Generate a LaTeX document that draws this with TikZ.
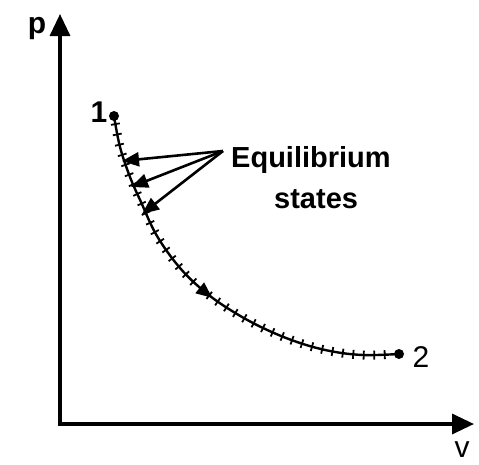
\documentclass[tikz,border=0pt]{standalone}
\usepackage{fontspec}
\setmainfont{Liberation Sans}
\usetikzlibrary{arrows.meta,decorations.markings}
\begin{document}
\begin{tikzpicture}[x=1pt,y=-1pt,
  axis/.style={line width=3.4pt,-{Triangle[length=22pt,width=20pt]}},
  pointer/.style={line width=2.6pt,-{Triangle[length=17pt,width=14pt]}},
  lbl/.style={font=\fontsize{30}{32}\selectfont,inner sep=0pt},
  txt/.style={font=\bfseries\fontsize{29}{30}\selectfont,inner sep=0pt},
  dot/.style={circle,fill=black,inner sep=0pt,minimum size=10pt},
  curve/.style={line width=2.4pt,
    postaction={decorate,decoration={markings,
      mark=between positions 0.02 and 0.99 step 10.5pt with {\draw[line width=1.8pt] (0,-4.5pt) -- (0,4.5pt);}}},
    postaction={decorate,decoration={markings,
      mark=at position 0.5 with {\fill (6pt,0) -- (-10pt,7pt) -- (-10pt,-7pt) -- cycle;}}}}]
\useasboundingbox (0,0) rectangle (479,464);
\coordinate (o) at (60,424);
\coordinate (ytop) at (60,14);
\coordinate (xend) at (474,424);
\draw[axis] ([yshift=1.5pt]o) -- (ytop);
\draw[axis] ([xshift=-1.7pt]o) -- (xend);
\node[lbl,font=\bfseries\fontsize{30}{32}\selectfont,anchor=base] (plbl) at (37,33) {p};
\node[lbl,anchor=base] (vlbl) at (462,457) {v};
\node[dot] (s1) at (114,116) {};
\node[dot] (s2) at (399,354) {};
\node[lbl,font=\bfseries\fontsize{30}{32}\selectfont,anchor=base] (l1) at (99,122) {1};
\node[lbl,anchor=base] (l2) at (421,367) {2};
\draw[curve] plot[smooth,tension=0.6] coordinates {(s1) (120,147) (130,177) (141,202) (157,236) (180,268) (205,292) (232,311) (263,328) (297,342) (330,351) (363,355) (s2)};
\coordinate (hub) at (223,151);
\draw[pointer] (hub) -- (122,161);
\draw[pointer] (hub) -- (131,187);
\draw[pointer] (hub) -- (142,214);
\node[txt,anchor=base west] (eq) at (231,167) {Equilibrium};
\node[txt,anchor=base west] (st) at (274,208) {states};
\end{tikzpicture}
\end{document}
